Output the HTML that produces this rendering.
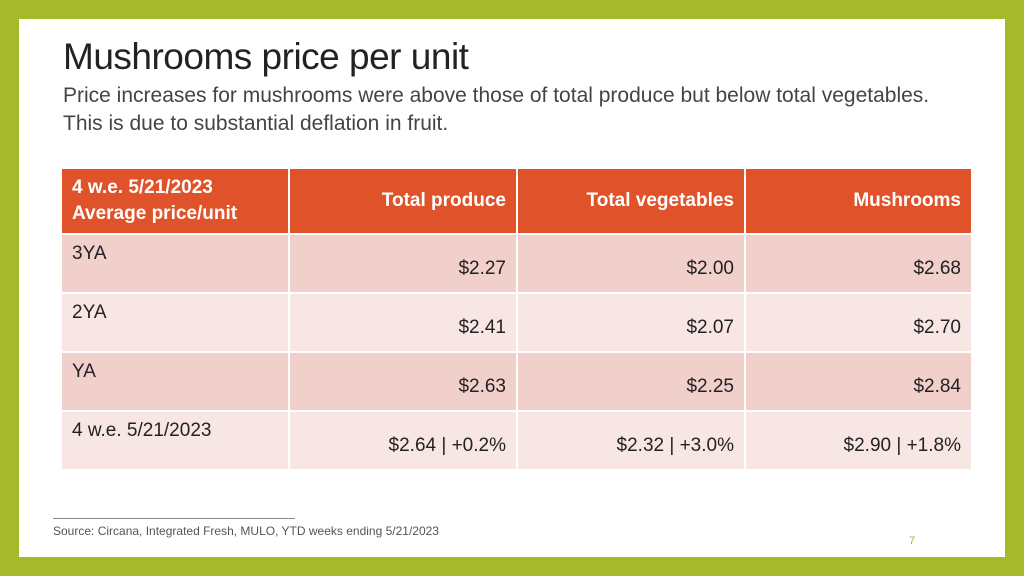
<!DOCTYPE html>
<html><head><meta charset="utf-8"><style>
body{margin:0;width:1024px;height:576px;background:#a5b92a;font-family:"Liberation Sans",sans-serif;overflow:hidden;position:relative}
.slide{position:absolute;left:19px;top:19px;width:986px;height:538px;background:#fff}
.title{position:absolute;left:63px;top:36px;font-size:37px;color:#222;letter-spacing:-0.5px}
.sub{position:absolute;left:63px;top:82px;width:880px;font-size:21px;line-height:28px;color:#444}
table{position:absolute;left:60px;top:167px;border-collapse:collapse;table-layout:fixed}
td{border:2px solid #fff;padding:0 10px;font-size:19px;color:#222;box-sizing:border-box}
tr.h td{background:#e0532a;color:#fff;font-weight:bold;height:66px;font-size:19px}
tr.r td{height:59px;vertical-align:bottom;padding-bottom:12px;text-align:right}
tr.r td:first-child{text-align:left;vertical-align:top;padding-top:8px}
tr.o td{background:#f1cfcb}
tr.e td{background:#f8e6e4}
.src{position:absolute;left:53px;top:524px;font-size:12px;color:#555}
.line{position:absolute;left:53px;top:518px;width:242px;border-top:1px solid #888}
.pg{position:absolute;left:909px;top:535px;font-size:11px;color:#a5b92a}
</style></head><body>
<div class="slide"></div>
<div class="title">Mushrooms price per unit</div>
<div class="sub">Price increases for mushrooms were above those of total produce but below total vegetables. This is due to substantial deflation in fruit.</div>
<table>
<colgroup><col style="width:228px"><col style="width:228px"><col style="width:228px"><col style="width:227px"></colgroup>
<tr class="h"><td style="line-height:26px">4 w.e. 5/21/2023<br>Average price/unit</td><td style="text-align:right">Total produce</td><td style="text-align:right">Total vegetables</td><td style="text-align:right">Mushrooms</td></tr>
<tr class="r o"><td>3YA</td><td>$2.27</td><td>$2.00</td><td>$2.68</td></tr>
<tr class="r e"><td>2YA</td><td>$2.41</td><td>$2.07</td><td>$2.70</td></tr>
<tr class="r o"><td>YA</td><td>$2.63</td><td>$2.25</td><td>$2.84</td></tr>
<tr class="r e"><td>4 w.e. 5/21/2023</td><td>$2.64 | +0.2%</td><td>$2.32 | +3.0%</td><td>$2.90 | +1.8%</td></tr>
</table>
<div class="line"></div>
<div class="src">Source: Circana, Integrated Fresh, MULO, YTD weeks ending 5/21/2023</div>
<div class="pg">7</div>
</body></html>
